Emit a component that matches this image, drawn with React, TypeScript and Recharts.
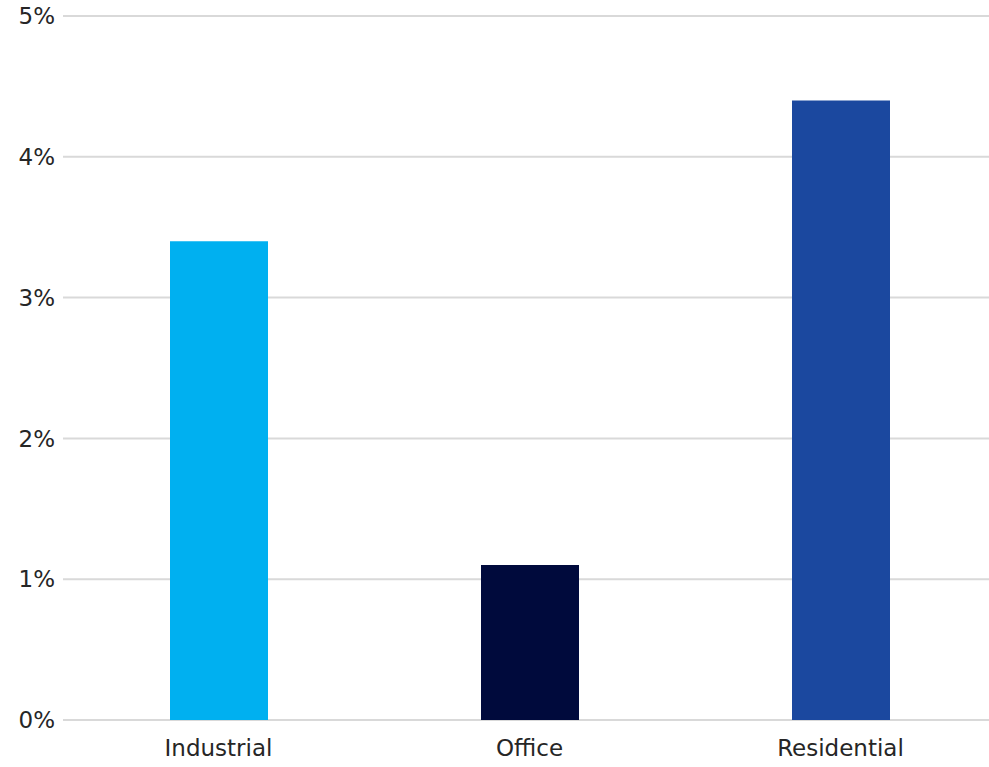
import { BarChart, Bar, XAxis, YAxis, CartesianGrid, Cell } from "recharts";

const categories = ["Industrial", "Office", "Residential"];
const values = [3.4, 1.1, 4.4];
const barColors = ["#00B0F0", "#000A3C", "#1B489F"];
const yTicks = [0, 1, 2, 3, 4, 5];

const data = categories.map((name, i) => ({ name, value: values[i] }));

const tickStyle = { fontSize: 23, fill: "#262626", fontFamily: "DejaVu Sans" };

export default function App() {
  return (
    <div
      style={{
        position: "absolute",
        left: 0,
        top: 0,
        width: 989,
        height: 767,
        overflow: "hidden",
        background: "#fff",
      }}
    >
      <BarChart
        width={996}
        height={767}
        data={data}
        margin={{ top: 16, right: 0, left: 0, bottom: 0 }}
      >
        <CartesianGrid vertical={false} stroke="#D9D9D9" strokeWidth={2} />
        <XAxis
          dataKey="name"
          axisLine={false}
          tickLine={false}
          tick={tickStyle}
          tickMargin={14}
          height={47}
          interval={0}
        />
        <YAxis
          domain={[0, 5]}
          ticks={yTicks}
          tickFormatter={(v) => `${v}%`}
          axisLine={false}
          tickLine={false}
          tick={tickStyle}
          tickMargin={2}
          width={63}
        />
        <Bar dataKey="value" barSize={98} isAnimationActive={false}>
          {data.map((d, i) => (
            <Cell key={d.name} fill={barColors[i]} />
          ))}
        </Bar>
      </BarChart>
    </div>
  );
}
